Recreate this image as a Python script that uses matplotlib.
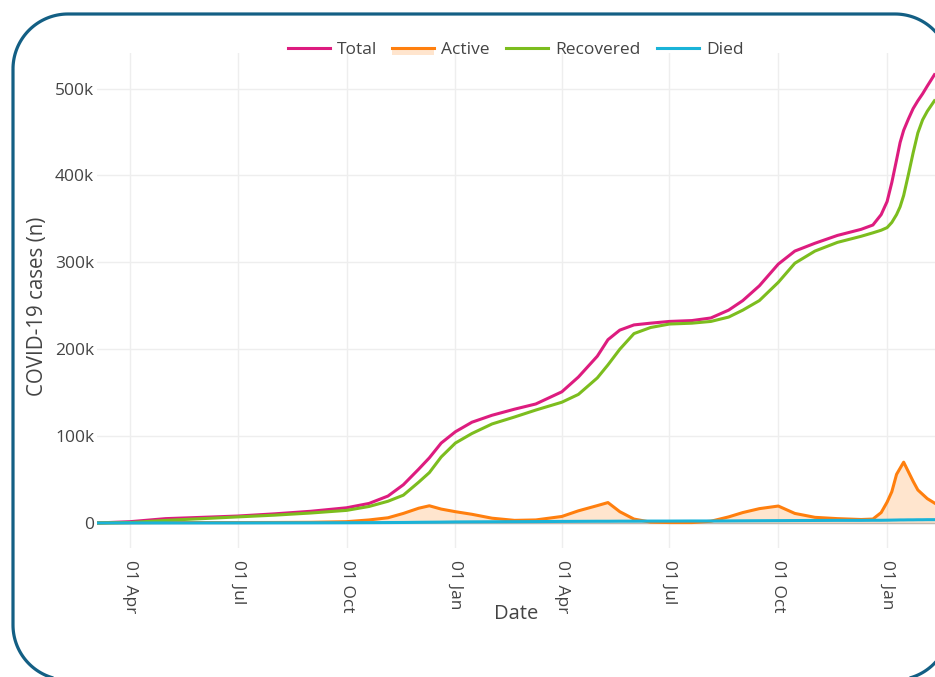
import matplotlib
matplotlib.use("Agg")
import matplotlib.pyplot as plt
import matplotlib.dates as mdates
from matplotlib.patches import Rectangle, PathPatch
from matplotlib.path import Path
from matplotlib.lines import Line2D
import pandas as pd
import numpy as np

# ---------------- data (values in thousands of cases) ----------------
dates = ["2020-03-04", "2020-04-01", "2020-05-01", "2020-06-01", "2020-07-01", "2020-08-01",
         "2020-09-01", "2020-10-01", "2020-10-20", "2020-11-05", "2020-11-18", "2020-12-01",
         "2020-12-10", "2020-12-20", "2021-01-01", "2021-01-15", "2021-02-01", "2021-02-20",
         "2021-03-10", "2021-04-01", "2021-04-15", "2021-05-01", "2021-05-10", "2021-05-20",
         "2021-06-01", "2021-06-15", "2021-07-01", "2021-07-20", "2021-08-05", "2021-08-20",
         "2021-09-01", "2021-09-15", "2021-10-01", "2021-10-15", "2021-11-01", "2021-11-20",
         "2021-12-10", "2021-12-20", "2021-12-27", "2022-01-01", "2022-01-05", "2022-01-09",
         "2022-01-12", "2022-01-15", "2022-01-19", "2022-01-23", "2022-01-27", "2022-01-31",
         "2022-02-04", "2022-02-10"]

total_k = [0, 1.5, 5, 6.5, 8, 10.5, 13.5, 17.5, 22.5, 31, 44, 62,
           75, 92, 105, 116, 124, 131, 137, 151, 168, 192, 211, 222,
           228, 230, 232, 233, 236, 245, 256, 273, 298, 313, 322, 331,
           338, 343, 355, 370, 392, 418, 438, 452, 465, 477, 486, 494,
           503, 516]

active_k = [0, 0.3, 0.5, 0.5, 0.5, 0.6, 0.8, 1.5, 3.5, 6, 11, 17,
            19.8, 16, 13, 10, 5.5, 3, 3.5, 7.5, 14, 20, 23.5, 13,
            4.5, 1, 0.5, 0.5, 2, 7, 12, 16.5, 19.5, 11, 6.5, 5,
            4, 4.5, 12, 24, 36, 56, 63, 70, 59, 48, 38, 33,
            28, 23]

recovered_k = [0, 0.5, 3, 5, 7, 9, 11.5, 14.5, 19, 25, 32, 47,
               58, 76, 92, 103, 114, 122, 130, 139, 148, 167, 182, 200,
               218, 225, 229, 230, 232, 237, 245, 256, 277, 299, 313, 323,
               330, 334, 337, 340, 346, 355, 364, 377, 401, 426, 449, 464,
               474, 486]

died_k = [0, 0.02, 0.05, 0.08, 0.1, 0.15, 0.2, 0.3, 0.4, 0.5, 0.6, 0.8,
          0.9, 1.0, 1.2, 1.3, 1.4, 1.5, 1.6, 1.8, 1.9, 2.0, 2.0, 2.1,
          2.1, 2.2, 2.2, 2.3, 2.3, 2.4, 2.5, 2.6, 2.7, 2.8, 2.9, 3.0,
          3.0, 3.1, 3.1, 3.2, 3.3, 3.4, 3.5, 3.5, 3.6, 3.6, 3.7, 3.7,
          3.8, 3.8]

series_names = ["Total", "Active", "Recovered", "Died"]
ytick_values = [0, 100000, 200000, 300000, 400000, 500000]
ytick_labels = ["0", "100k", "200k", "300k", "400k", "500k"]

# ---------------- styling ----------------
FONT = ["Open Sans", "DejaVu Sans"]
plt.rcParams["font.family"] = FONT
TXT = "#444444"
colors = {"Total": "#dd1c7f", "Active": "#ff7f0e", "Recovered": "#7cbd1e", "Died": "#1ab3d8"}
LW = 2.2

W, H = 935, 677
fig = plt.figure(figsize=(W / 100, H / 100), dpi=100)
fig.patch.set_facecolor("white")

# axes geometry in pixels
ax_l, ax_r, ax_t, ax_b = 97, 935, 53, 548
ax = fig.add_axes([ax_l / W, 1 - ax_b / H, (ax_r - ax_l) / W, (ax_b - ax_t) / H])
ax.set_facecolor("white")

x = pd.to_datetime(dates)
total = np.array(total_k) * 1000
active = np.array(active_k) * 1000
recovered = np.array(recovered_k) * 1000
died = np.array(died_k) * 1000

ax.axhline(0, color="#bdbdbd", lw=1.0, zorder=1)
ax.plot(x, total, color=colors["Total"], lw=LW, zorder=3, solid_joinstyle="round")
ax.fill_between(x, 0, active, color=colors["Active"], alpha=0.2, lw=0, zorder=2)
ax.plot(x, active, color=colors["Active"], lw=LW, zorder=3, solid_joinstyle="round")
ax.plot(x, recovered, color=colors["Recovered"], lw=LW, zorder=3, solid_joinstyle="round")
ax.plot(x, died, color=colors["Died"], lw=LW, zorder=4, solid_joinstyle="round")

ax.set_xlim(pd.Timestamp("2020-03-04"), pd.Timestamp("2022-02-10 12:00"))
ax.set_ylim(-28800, 541000)

ax.set_yticks(ytick_values)
ax.set_yticklabels(ytick_labels)
ax.xaxis.set_major_locator(mdates.MonthLocator(bymonth=[1, 4, 7, 10]))
ax.xaxis.set_major_formatter(mdates.DateFormatter("%d %b"))

ax.grid(True, color="#eeeeee", lw=1.0, zorder=0)
ax.set_axisbelow(True)
for s in ax.spines.values():
    s.set_visible(False)
ax.tick_params(axis="both", length=0, colors=TXT, labelsize=12.5)
ax.tick_params(axis="y", pad=2)
ax.tick_params(axis="x", pad=9)
for lab in ax.get_xticklabels():
    lab.set_rotation(-90)

fig.text(516 / W, 1 - 614 / H, "Date", ha="center", va="center", fontsize=14.5, color=TXT)
fig.text(38 / W, 1 - 306 / H, "COVID-19 cases (n)", ha="center", va="center",
         rotation=90, fontsize=14.8, color=TXT)

# ---------------- manual legend (pixel coordinates) ----------------
leg_y = 48
leg_items = [("Total", 288), ("Active", 392), ("Recovered", 506), ("Died", 657)]
for name, x0 in leg_items:
    yy = 1 - leg_y / H
    if name == "Active":
        fig.add_artist(Rectangle((x0 / W, 1 - (leg_y + 7) / H), 42 / W, 7 / H,
                                 transform=fig.transFigure, facecolor=colors["Active"],
                                 alpha=0.2, lw=0))
    fig.add_artist(Line2D([x0 / W, (x0 + 42) / W], [yy, yy], transform=fig.transFigure,
                          color=colors[name], lw=LW))
    fig.text((x0 + 49) / W, yy - 1.5 / H, name, ha="left", va="center", fontsize=12.5, color=TXT)

# ---------------- rounded frame (pixel coords, y from top), closed path ----------------
fx0, fx1, fy0, fy1, rad = 13, 950, 14, 680, 55
def arc(cx, cy, a0, a1):
    t = np.linspace(np.radians(a0), np.radians(a1), 40)
    return list(zip(cx + rad * np.cos(t), cy - rad * np.sin(t)))
pts = []
pts += arc(fx0 + rad, fy0 + rad, 180, 90)          # top-left
pts += arc(fx1 - rad, fy0 + rad, 90, 0)            # top-right
pts += arc(fx1 - rad, fy1 - rad, 0, -90)           # bottom-right
pts += arc(fx0 + rad, fy1 - rad, -90, -180)        # bottom-left
verts = [(px / W, 1 - py / H) for px, py in pts] + [(0, 0)]
codes = [Path.MOVETO] + [Path.LINETO] * (len(pts) - 1) + [Path.CLOSEPOLY]
fig.add_artist(PathPatch(Path(verts, codes), transform=fig.transFigure, facecolor="none",
                         edgecolor="#135f84", lw=2.3, joinstyle="round", clip_on=False))

fig.savefig("out.png", dpi=100)
